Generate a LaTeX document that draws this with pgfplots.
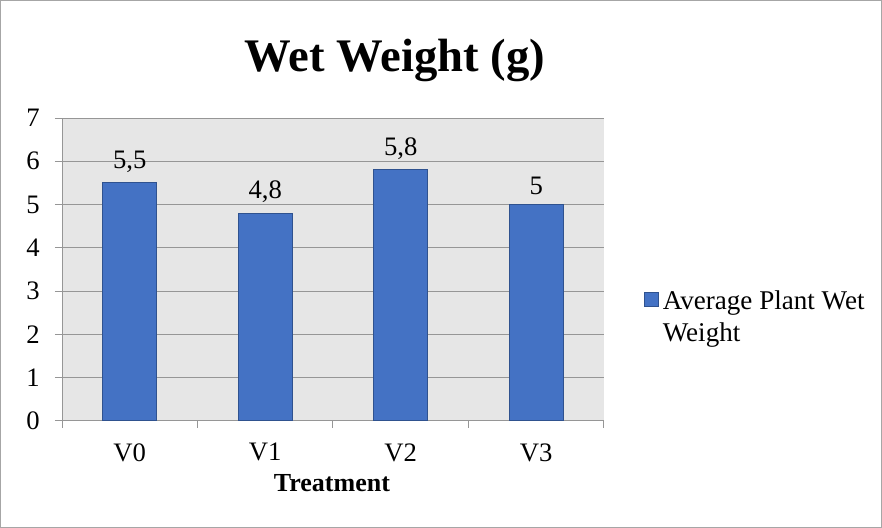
\documentclass[border=0pt]{standalone}
\usepackage{pgfplots}
\pgfplotsset{compat=1.18}
\usepackage{fontspec}
\setmainfont{Liberation Serif}
\definecolor{barblue}{HTML}{4472C4}
\definecolor{baredge}{HTML}{2F528F}
\definecolor{gridgray}{HTML}{969696}
\definecolor{bggray}{HTML}{E6E6E6}
\definecolor{framegray}{HTML}{A6A6A6}
\begin{document}
\begin{tikzpicture}[x=0.75pt,y=0.75pt]
\path[use as bounding box] (0,0) rectangle (882,528);
\draw[framegray,line width=0.75pt] (0.5,0.5) rectangle (881.5,527.5);
\begin{axis}[
  at={(46.5pt,80.25pt)}, anchor=south west,
  scale only axis, width=406.5pt, height=227.25pt,
  /pgf/number format/assume math mode=true,
  /pgf/number format/use comma,
  ymin=0, ymax=7, ytick={0,1,2,3,4,5,6,7},
  xmin=-0.5, xmax=3.5,
  xtick={0,1,2,3}, xticklabels={V0,V1,V2,V3},
  minor xtick={-0.5,0.5,1.5,2.5,3.5},
  axis x line*=bottom, axis y line*=left,
  axis line style={gridgray, line width=0.75pt, -},
  tick align=outside,
  x tick style={draw=none},
  minor x tick style={draw=gridgray, line width=0.75pt},
  y tick style={gridgray, line width=0.75pt},
  major tick length=5.25pt, minor tick length=5.25pt,
  ymajorgrids, xminorgrids=false,
  grid style={gridgray, line width=0.75pt},
  axis background/.style={fill=bggray},
  tick label style={font=\fontsize{20}{24}\selectfont},
  yticklabel style={xshift=-8pt},
  xticklabel style={yshift=-8pt},
  title={Wet Weight (g)},
  title style={font=\fontsize{35}{42}\selectfont\bfseries, at={(0.614,1.165)}, anchor=center},
  xlabel={Treatment},
  xlabel style={font=\fontsize{19.5}{23}\selectfont\bfseries, at={(0.498,-0.205)}, anchor=center},
  legend style={at={(1.074,0.403)}, anchor=west, draw=none, fill=none,
    font=\fontsize{20.3}{24}\selectfont, inner sep=0pt,
    nodes={inner xsep=2.6pt}},
  legend cell align=left,
  legend image code/.code={\draw[#1] (0pt,-6pt) rectangle (10.5pt,4.5pt);},
  nodes near coords,
  every node near coord/.append style={font=\fontsize{20}{24}\selectfont, yshift=4pt, black},
]
\addplot[ybar, bar width=0.4, fill=barblue, draw=baredge, line width=0.75pt]
  coordinates {(0,5.5) (1,4.8) (2,5.8) (3,5)};
\addlegendentry{\begin{tabular}[t]{@{}l@{}}Average Plant Wet\\Weight\end{tabular}}
\end{axis}
\end{tikzpicture}
\end{document}
